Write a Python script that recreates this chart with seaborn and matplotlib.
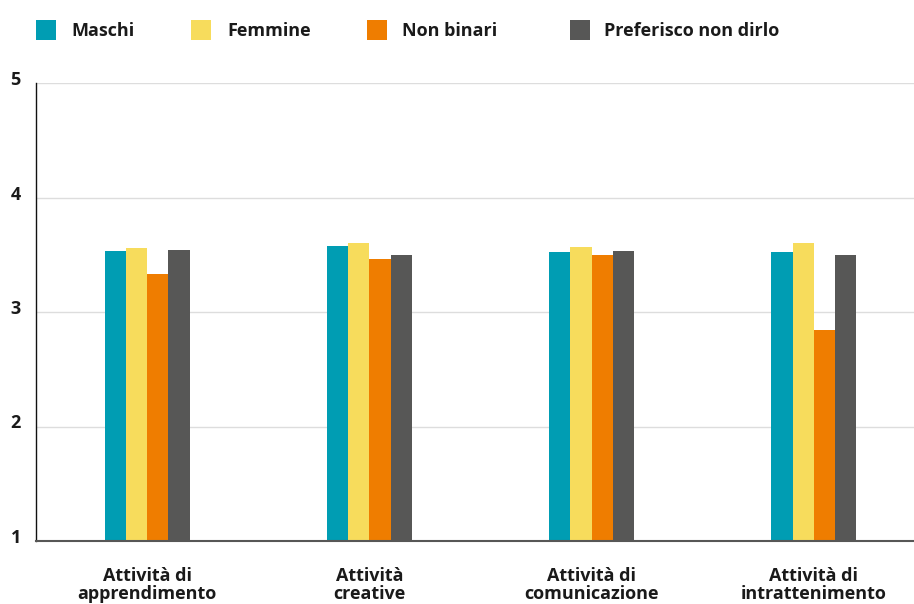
import matplotlib
matplotlib.use("Agg")
import matplotlib.pyplot as plt
from matplotlib.patches import Rectangle
from matplotlib.transforms import ScaledTranslation
import seaborn as sns
import pandas as pd

# Average scores by activity type and gender
categories = ["Attività di\napprendimento", "Attività\ncreative",
              "Attività di\ncomunicazione", "Attività di\nintrattenimento"]
groups = ["Maschi", "Femmine", "Non binari", "Preferisco non dirlo"]
maschi = [3.53, 3.58, 3.52, 3.52]
femmine = [3.56, 3.60, 3.57, 3.60]
non_binari = [3.33, 3.46, 3.50, 2.84]
preferisco = [3.54, 3.50, 3.53, 3.50]
y_ticks = [1, 2, 3, 4, 5]

colors = ["#009db3", "#f7dc5c", "#ef7d00", "#575756"]
FONT = ["Open Sans", "DejaVu Sans"]
FS = 13

rows = []
for g, vals in zip(groups, [maschi, femmine, non_binari, preferisco]):
    for c, v in zip(categories, vals):
        rows.append({"categoria": c, "gruppo": g, "valore": v})
df = pd.DataFrame(rows)

sns.set_style("white")
plt.rcParams["font.family"] = FONT

W, H = 914, 604
fig = plt.figure(figsize=(W / 100, H / 100), dpi=100)
# axes run slightly past the right edge so the gridlines bleed off the figure
ax = fig.add_axes([36 / W, 63 / H, 889 / W, 458 / H])

sns.barplot(data=df, x="categoria", y="valore", hue="gruppo",
            hue_order=groups, order=categories, palette=colors,
            width=0.383, gap=0, saturation=1, ax=ax, legend=False,
            linewidth=0, zorder=3)

ax.set_ylim(1, 5)
ax.set_xlim(-0.5, 3.5)
ax.set_yticks(y_ticks)
ax.set_yticklabels([str(t) for t in y_ticks], fontsize=FS,
                   fontweight="bold", color="#1a1a1a")
ax.set_xticks(range(len(categories)))
ax.set_xticklabels(categories, fontsize=FS, fontweight="bold",
                   color="#1a1a1a", linespacing=1.0)
ax.set_xlabel("")
ax.set_ylabel("")

ax.yaxis.grid(True, color="#dddddd", linewidth=1, zorder=0)
ax.xaxis.grid(False)
ax.tick_params(axis="both", length=0)
ax.tick_params(axis="y", pad=14)
ax.tick_params(axis="x", pad=19)
for lbl in ax.get_yticklabels():
    lbl.set_horizontalalignment("left")
    lbl.set_transform(lbl.get_transform() +
                      ScaledTranslation(-0.06, 0.05, fig.dpi_scale_trans))

for side in ["top", "right"]:
    ax.spines[side].set_visible(False)
ax.spines["left"].set_color("#111111")
ax.spines["left"].set_linewidth(1.0)
ax.spines["bottom"].set_color("#575756")
ax.spines["bottom"].set_linewidth(1.5)
ax.spines["left"].set_zorder(4)
ax.spines["bottom"].set_zorder(4)

# Legend row across the top
swatch_x = [36, 191, 367, 570]
label_x = [71, 227, 402, 604]
for x, tx, c, g in zip(swatch_x, label_x, colors, groups):
    fig.patches.append(Rectangle((x / W, 1 - 40 / H), 20 / W, 20 / H,
                                 transform=fig.transFigure, facecolor=c,
                                 edgecolor="none"))
    fig.text(tx / W, 1 - 30.5 / H, g, fontsize=FS, fontweight="bold",
             color="#1a1a1a", ha="left", va="center", family=FONT)

fig.savefig("out.png", dpi=100)
